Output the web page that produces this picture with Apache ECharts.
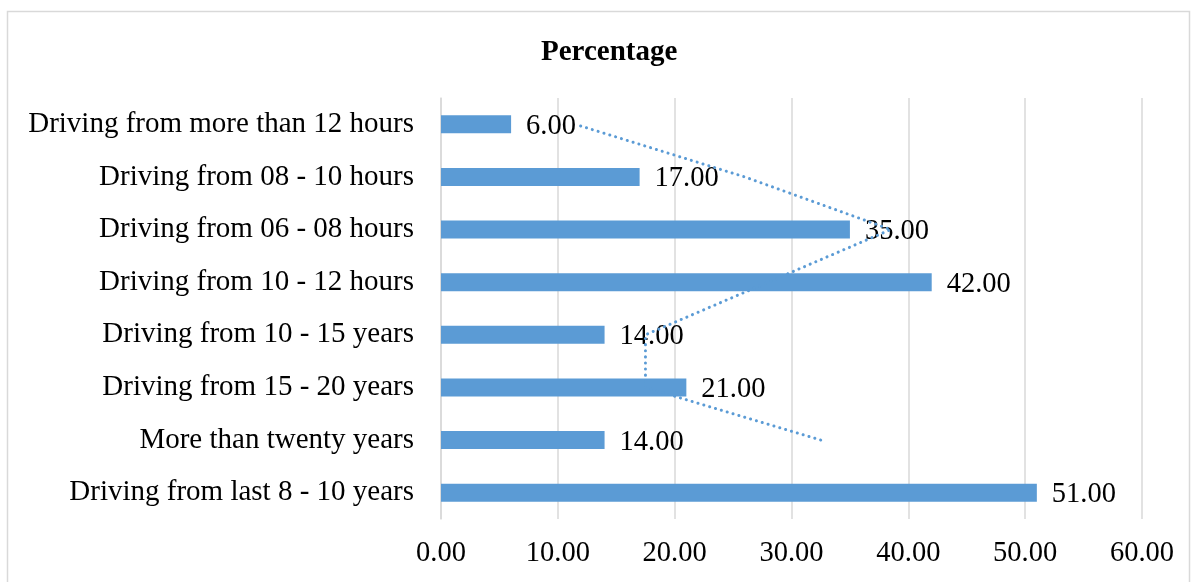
<!DOCTYPE html>
<html>
<head>
<meta charset="utf-8">
<script src="https://cdn.jsdelivr.net/npm/echarts@6/dist/echarts.min.js"></script>
<style>
  html, body { margin: 0; padding: 0; background: #fff; }
  #chart { width: 1195px; height: 582px; }
</style>
</head>
<body>
<div id="chart"></div>
<script>
// Categories listed bottom to top
const categories = [
  'Driving from last 8 - 10 years',
  'More than twenty years',
  'Driving from 15 - 20 years',
  'Driving from 10 - 15 years',
  'Driving from 10 - 12 hours',
  'Driving from 06 - 08 hours',
  'Driving from 08 - 10 hours',
  'Driving from more than 12 hours'
];
const percentages = [51, 14, 21, 14, 42, 35, 17, 6];
// Two-period moving average trendline
const trendValues = [null, 32.5, 17.5, 17.5, 28, 38.5, 26, 11.5];
const xTicks = [0, 10, 20, 30, 40, 50, 60];

const FONT = '"Liberation Serif", "Times New Roman", serif';
const BLUE = '#5b9bd5';

const chart = echarts.init(document.getElementById('chart'), null, { renderer: 'canvas' });
chart.setOption({
  backgroundColor: '#ffffff',
  animation: false,
  title: {
    text: 'Percentage',
    left: 536,
    top: 33,
    textStyle: { fontFamily: FONT, fontSize: 29, fontWeight: 'bold', color: '#000' }
  },
  graphic: [{
    type: 'rect',
    shape: { x: 7.5, y: 11.5, width: 1182, height: 600 },
    style: { fill: 'none', stroke: '#d9d9d9', lineWidth: 1.5 },
    silent: true
  }],
  grid: { left: 441, right: 53, top: 98, height: 421, containLabel: false },
  xAxis: {
    type: 'value',
    min: xTicks[0],
    max: xTicks[xTicks.length - 1],
    interval: 10,
    axisLine: { show: false },
    axisTick: { show: false },
    splitLine: { show: true, lineStyle: { color: '#d9d9d9', width: 1.5 } },
    axisLabel: {
      margin: 20,
      fontFamily: FONT, fontSize: 28.5, color: '#000',
      formatter: v => v.toFixed(2)
    }
  },
  yAxis: {
    type: 'category',
    data: categories,
    axisLine: { show: true, lineStyle: { color: '#d9d9d9', width: 1.5 } },
    axisTick: { show: false },
    axisLabel: { margin: 27, fontFamily: FONT, fontSize: 29, color: '#000' }
  },
  series: [
    {
      type: 'bar',
      data: percentages,
      barWidth: 18,
      itemStyle: { color: BLUE },
      label: {
        show: true,
        position: 'right',
        distance: 15,
        offset: [0, 2],
        fontFamily: FONT, fontSize: 28.5, color: '#000',
        formatter: p => p.value.toFixed(2)
      },
      z: 2
    },
    {
      type: 'line',
      data: trendValues,
      symbol: 'none',
      connectNulls: false,
      lineStyle: { color: BLUE, width: 3, type: [0.1, 6], cap: 'round' },
      z: 3
    }
  ]
});
</script>
</body>
</html>
